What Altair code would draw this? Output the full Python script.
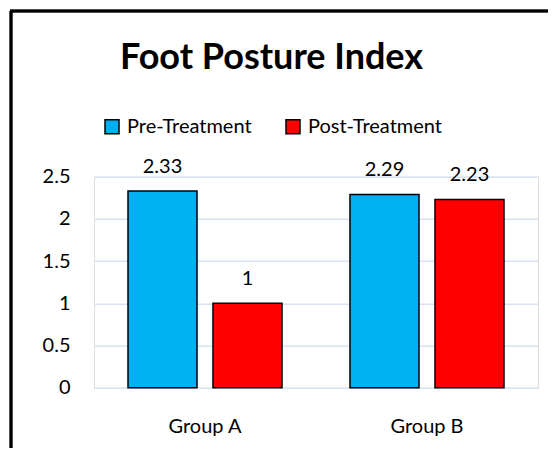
import altair as alt
import pandas as pd

groups = ["Group A", "Group A", "Group B", "Group B"]
series = ["Pre-Treatment", "Post-Treatment", "Pre-Treatment", "Post-Treatment"]
values = [2.33, 1, 2.29, 2.23]
labels = ["2.33", "1", "2.29", "2.23"]
series_order = ["Pre-Treatment", "Post-Treatment"]
colors = ["#00B0F0", "#FF0000"]
y_ticks = [0, 0.5, 1, 1.5, 2, 2.5]

df = pd.DataFrame({"group": groups, "series": series, "value": values, "label": labels})

FONT = "Lato"
FS = 20
W, H = 444, 211

base = alt.Chart(df).encode(
    x=alt.X(
        "group:N",
        title=None,
        scale=alt.Scale(paddingInner=0, paddingOuter=0),
        axis=alt.Axis(labelAngle=0, domain=False, ticks=False, labelPadding=29,
                      labelFont=FONT, labelFontSize=FS, labelColor="#000000"),
    ),
    xOffset=alt.XOffset("series:N", sort=series_order,
                        scale=alt.Scale(domain=series_order, paddingInner=0.188, paddingOuter=0.4)),
    y=alt.Y(
        "value:Q",
        title=None,
        scale=alt.Scale(domain=[0, 2.5], nice=False),
        axis=alt.Axis(values=y_ticks, format="~g", domain=False, ticks=False, labelPadding=24,
                      labelFont=FONT, labelFontSize=FS, labelColor="#000000",
                      gridColor="#D9E2F3", gridWidth=1.5, gridOpacity=1),
    ),
)

bars = base.mark_bar(stroke="black", strokeWidth=1.5).encode(
    color=alt.Color(
        "series:N",
        sort=series_order,
        scale=alt.Scale(domain=series_order, range=colors),
        legend=alt.Legend(
            title=None, orient="none", direction="horizontal",
            legendX=8, legendY=-60, symbolType="square", symbolSize=196,
            symbolStrokeColor="black", symbolStrokeWidth=1.5,
            labelFont=FONT, labelFontSize=FS, labelColor="#000000",
            labelOffset=5, columnPadding=31, padding=0,
        ),
    )
)

text = base.mark_text(baseline="alphabetic", dy=-18, fontSize=FS, font=FONT, color="#000000").encode(
    text="label:N"
)

left_border = alt.Chart(df).mark_rule(color="black", strokeWidth=2.5).encode(
    x=alt.value(-83), y=alt.value(-165.7), y2=alt.value(400)
)
top_border = alt.Chart(df).mark_rule(color="black", strokeWidth=2.5).encode(
    x=alt.value(-84), x2=alt.value(600), y=alt.value(-165.7)
)

chart = alt.layer(bars, text, left_border, top_border).properties(
    width=W,
    height=H,
    title=alt.Title("Foot Posture Index", font=FONT, fontSize=36, fontWeight="bold",
                    color="#000000", anchor="middle", dx=-44.5, offset=0, dy=67),
    autosize=alt.AutoSizeParams(type="none"),
    padding={"left": 86, "top": 168.7, "right": 10, "bottom": 60},
).configure_view(stroke=None).configure(background="white")

chart.save("out.html", embed_options={"renderer": "svg", "actions": False})
